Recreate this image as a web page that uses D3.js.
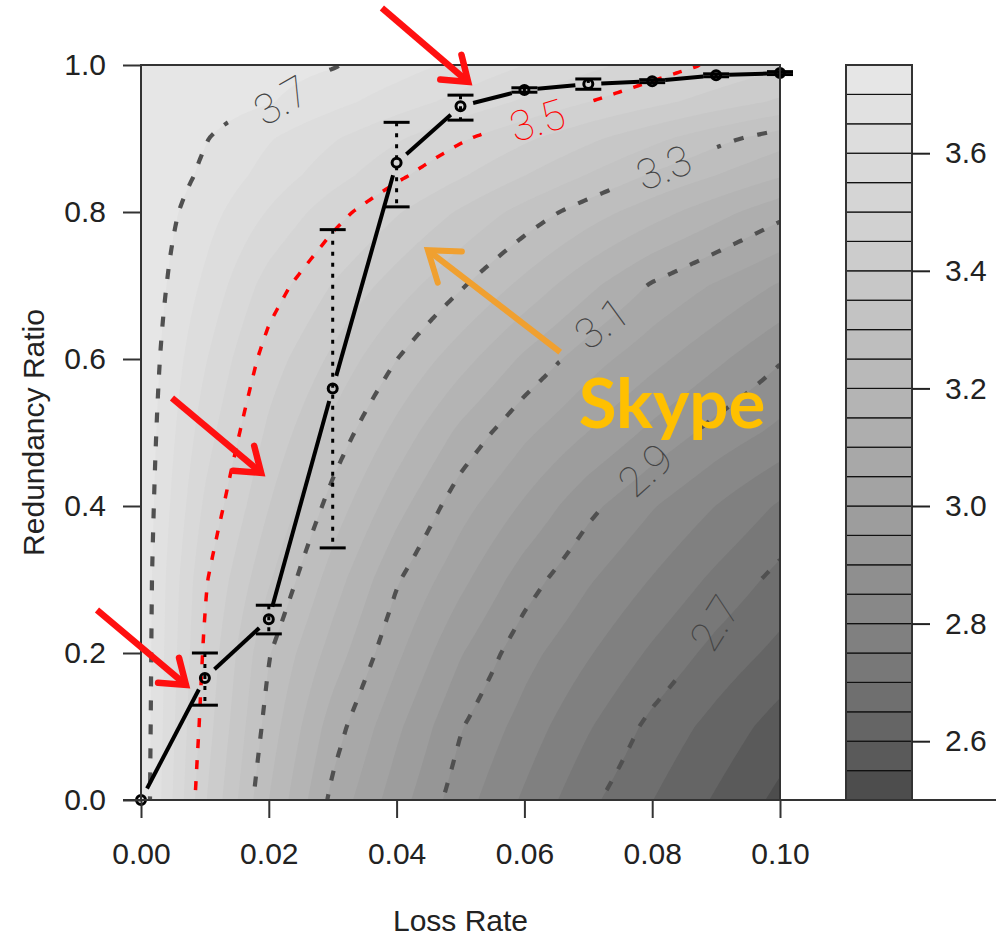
<!DOCTYPE html>
<html><head><meta charset="utf-8">
<script src="https://cdn.jsdelivr.net/npm/d3@7"></script>
<style>body{margin:0;background:#fff}svg{display:block}</style>
</head><body>
<svg id="chart" width="996" height="936"></svg>
<script>
// ---------------- DATA ----------------
// grid of the score surface
const lossGrid = [0, 0.01, 0.02, 0.03, 0.04, 0.05, 0.06, 0.07, 0.08, 0.09, 0.10];
const redundancyGrid = [0, 0.1, 0.2, 0.3, 0.4, 0.5, 0.6, 0.7, 0.8, 0.85, 0.9, 0.95, 1.0];
const scoreGrid = [
  [3.740, 3.456, 3.250, 3.086, 2.973, 2.872, 2.792, 2.712, 2.651, 2.594, 2.537],
  [3.740, 3.476, 3.278, 3.125, 3.011, 2.904, 2.829, 2.755, 2.686, 2.632, 2.578],
  [3.740, 3.491, 3.304, 3.178, 3.061, 2.954, 2.869, 2.805, 2.741, 2.683, 2.635],
  [3.740, 3.507, 3.356, 3.226, 3.106, 3.014, 2.924, 2.856, 2.797, 2.738, 2.684],
  [3.740, 3.541, 3.401, 3.280, 3.169, 3.070, 2.992, 2.914, 2.854, 2.799, 2.743],
  [3.740, 3.573, 3.439, 3.334, 3.234, 3.137, 3.061, 2.999, 2.937, 2.882, 2.837],
  [3.740, 3.605, 3.477, 3.389, 3.301, 3.220, 3.140, 3.072, 3.016, 2.961, 2.905],
  [3.740, 3.640, 3.527, 3.447, 3.376, 3.306, 3.235, 3.163, 3.094, 3.044, 2.994],
  [3.740, 3.672, 3.596, 3.520, 3.455, 3.393, 3.331, 3.274, 3.222, 3.169, 3.116],
  [3.745, 3.691, 3.631, 3.571, 3.511, 3.456, 3.401, 3.347, 3.294, 3.250, 3.205],
  [3.745, 3.703, 3.654, 3.605, 3.556, 3.507, 3.459, 3.411, 3.364, 3.316, 3.273],
  [3.750, 3.727, 3.704, 3.666, 3.625, 3.584, 3.542, 3.501, 3.465, 3.428, 3.392],
  [3.750, 3.735, 3.720, 3.704, 3.673, 3.637, 3.600, 3.564, 3.527, 3.492, 3.458]
];
const fillLevels = [2.5, 2.55, 2.6, 2.65, 2.7, 2.75, 2.8, 2.85, 2.9, 2.95, 3.0, 3.05, 3.1,
  3.15, 3.2, 3.25, 3.3, 3.35, 3.4, 3.45, 3.5, 3.55, 3.6, 3.65, 3.7, 3.75];
const lineLevels = [2.7, 2.9, 3.1, 3.3, 3.5, 3.7];
const highlightLevel = 3.5;
// contour label anchors (loss, redundancy, angle)
const labelLevels = ["3.7", "3.5", "3.3", "3.1", "2.9", "2.7"];
const labelLoss = [0.0219, 0.0620, 0.0818, 0.0721, 0.0789, 0.0898];
const labelRatio = [0.952, 0.925, 0.861, 0.649, 0.449, 0.241];
const labelAngle = [-30, -17, -21, -36, -42, -58];

// measured Skype points
const lossRate = [0, 0.01, 0.02, 0.03, 0.04, 0.05, 0.06, 0.07, 0.08, 0.09, 0.10];
const meanRatio = [0, 0.166, 0.246, 0.560, 0.867, 0.944, 0.966, 0.974, 0.978, 0.986, 0.989];
const lowRatio  = [0, 0.129, 0.226, 0.343, 0.807, 0.925, 0.963, 0.967, 0.976, 0.984, 0.987];
const highRatio = [0, 0.200, 0.265, 0.776, 0.922, 0.959, 0.969, 0.981, 0.980, 0.988, 0.991];

// axis ticks
const xTicks = [0, 0.02, 0.04, 0.06, 0.08, 0.10];
const yTicks = [0, 0.2, 0.4, 0.6, 0.8, 1.0];
const keyTicks = [2.6, 2.8, 3.0, 3.2, 3.4, 3.6];

// annotations (data coordinates)
const redArrowTail = [[0.0377, 1.0776], [0.00485, 0.547], [-0.00689, 0.2585]];
const redArrowTip  = [[0.0512, 0.9769], [0.0188, 0.445], [0.00704, 0.1565]];
const orangeArrowTail = [0.0656, 0.6095];
const orangeArrowTip  = [0.0449, 0.748];
const calloutText = "Skype";
const calloutAt = [0.0685, 0.506];

// ---------------- LAYOUT ----------------
const svg = d3.select("#chart");
const L = 141, R = 780, T = 65, B = 800;
const x = d3.scaleLinear().domain([0, 0.1]).range([L, R]);
const y = d3.scaleLinear().domain([0, 1]).range([B, T]);
const keyY = d3.scaleLinear().domain([2.5, 3.75]).range([B, T]);
const KL = 846, KR = 912;

function grayCol(k, n) {
  const s = Math.pow(0.3, 2.2), e = Math.pow(0.9, 2.2);
  const v = Math.pow(s + (e - s) * k / (n - 1), 1 / 2.2);
  const c = Math.round(v * 255);
  return d3.rgb(c, c, c).formatHex();
}
const nBands = fillLevels.length - 1;
const bandColor = d3.range(nBands).map(k => grayCol(k, nBands));

// ---------------- FIELD (bilinear resampling for rendering) ----------------
function fieldAt(xv, yv) {
  xv = Math.max(0, Math.min(0.1, xv));
  yv = Math.max(0, Math.min(1, yv));
  let i = Math.max(0, Math.min(lossGrid.length - 2, d3.bisectRight(lossGrid, xv) - 1));
  let j = Math.max(0, Math.min(redundancyGrid.length - 2, d3.bisectRight(redundancyGrid, yv) - 1));
  const tx = (xv - lossGrid[i]) / (lossGrid[i + 1] - lossGrid[i]);
  const ty = (yv - redundancyGrid[j]) / (redundancyGrid[j + 1] - redundancyGrid[j]);
  const z00 = scoreGrid[j][i], z10 = scoreGrid[j][i + 1];
  const z01 = scoreGrid[j + 1][i], z11 = scoreGrid[j + 1][i + 1];
  return (1 - tx) * (1 - ty) * z00 + tx * (1 - ty) * z10 + (1 - tx) * ty * z01 + tx * ty * z11;
}
const fx0 = -0.003, fdx = 0.0004, fnx = Math.round(0.106 / fdx) + 1;
const fy0 = -0.03, fdy = 0.004, fny = Math.round(1.06 / fdy) + 1;
const values = new Float64Array(fnx * fny);
for (let j = 0; j < fny; j++)
  for (let i = 0; i < fnx; i++)
    values[j * fnx + i] = fieldAt(fx0 + i * fdx, fy0 + j * fdy);

const proj = d3.geoTransform({
  point(cx, cy) { this.stream.point(x(fx0 + (cx - 0.5) * fdx), y(fy0 + (cy - 0.5) * fdy)); }
});
const path = d3.geoPath(proj);
const contours = d3.contours().size([fnx, fny]);

const defs = svg.append("defs");
defs.append("clipPath").attr("id", "plotClip")
  .append("rect").attr("x", L).attr("y", T).attr("width", R - L).attr("height", B - T);

// label gaps mask
const mask = defs.append("mask").attr("id", "labelGaps").attr("maskUnits", "userSpaceOnUse")
  .attr("x", 0).attr("y", 0).attr("width", 996).attr("height", 936);
mask.append("rect").attr("x", 0).attr("y", 0).attr("width", 996).attr("height", 936).attr("fill", "#fff");
labelLevels.forEach((lab, k) => {
  mask.append("rect").attr("x", -57).attr("y", -22).attr("width", 114).attr("height", 44)
    .attr("fill", "#000")
    .attr("transform", `translate(${x(labelLoss[k])},${y(labelRatio[k])}) rotate(${labelAngle[k]})`);
});

// ---------------- FILLED CONTOURS ----------------
const plotG = svg.append("g").attr("clip-path", "url(#plotClip)");
plotG.append("rect").attr("x", L).attr("y", T).attr("width", R - L).attr("height", B - T)
  .attr("fill", bandColor[0]);
fillLevels.slice(0, nBands).forEach((lv, k) => {
  const c = contours.contour(values, lv);
  plotG.append("path").attr("d", path(c)).attr("fill", bandColor[k]).attr("stroke", "none");
});

// contour lines
const lineG = plotG.append("g").attr("mask", "url(#labelGaps)");
lineLevels.forEach(lv => {
  const c = contours.contour(values, lv);
  const red = Math.abs(lv - highlightLevel) < 1e-9;
  lineG.append("path").attr("d", path(c)).attr("fill", "none")
    .attr("stroke", red ? "#ff0000" : "#505050")
    .attr("stroke-width", red ? 3.5 : 4.2)
    .attr("stroke-dasharray", red ? "9,12" : "10,14");
});

// contour labels
labelLevels.forEach((lab, k) => {
  const red = +lab === highlightLevel;
  plotG.append("text")
    .attr("transform", `translate(${x(labelLoss[k])},${y(labelRatio[k])}) rotate(${labelAngle[k]})`)
    .attr("text-anchor", "middle").attr("dy", "0.36em")
    .attr("font-family", "Roboto, 'Liberation Sans', sans-serif")
    .attr("font-weight", 100).attr("font-size", 42)
    .attr("fill", red ? "#ff0000" : "#444444")
    .text(lab);
});

// ---------------- MEASURED SERIES ----------------
const serG = svg.append("g");
const gap = 13;
for (let i = 0; i < lossRate.length - 1; i++) {
  const x1 = x(lossRate[i]), y1 = y(meanRatio[i]), x2 = x(lossRate[i + 1]), y2 = y(meanRatio[i + 1]);
  const d = Math.hypot(x2 - x1, y2 - y1);
  if (d <= 2 * gap) continue;
  const ux = (x2 - x1) / d, uy = (y2 - y1) / d;
  serG.append("line").attr("x1", x1 + ux * gap).attr("y1", y1 + uy * gap)
    .attr("x2", x2 - ux * gap).attr("y2", y2 - uy * gap)
    .attr("stroke", "#000").attr("stroke-width", 4);
}
lossRate.forEach((lr, i) => {
  if (highRatio[i] === lowRatio[i]) return;
  const cx = x(lr);
  serG.append("line").attr("x1", cx).attr("x2", cx).attr("y1", y(highRatio[i])).attr("y2", y(lowRatio[i]))
    .attr("stroke", "#000").attr("stroke-width", 3).attr("stroke-dasharray", "4,7");
  [highRatio[i], lowRatio[i]].forEach(v => {
    serG.append("line").attr("x1", cx - 13).attr("x2", cx + 13).attr("y1", y(v)).attr("y2", y(v))
      .attr("stroke", "#000").attr("stroke-width", 3);
  });
});
lossRate.forEach((lr, i) => {
  serG.append("circle").attr("cx", x(lr)).attr("cy", y(meanRatio[i])).attr("r", 4.5)
    .attr("fill", "none").attr("stroke", "#000").attr("stroke-width", 3);
});

// ---------------- FRAME & AXES ----------------
svg.append("rect").attr("x", L).attr("y", T).attr("width", R - L).attr("height", B - T)
  .attr("fill", "none").attr("stroke", "#333").attr("stroke-width", 2);
svg.append("line").attr("x1", 123).attr("x2", 996).attr("y1", B).attr("y2", B)
  .attr("stroke", "#333").attr("stroke-width", 2);

const axFont = "'Liberation Sans', Arial, sans-serif";
const xAx = svg.append("g").attr("transform", `translate(0,${B})`)
  .call(d3.axisBottom(x).tickValues(xTicks).tickSize(18).tickPadding(25).tickFormat(d3.format(".2f")));
const yAx = svg.append("g").attr("transform", `translate(${L},0)`)
  .call(d3.axisLeft(y).tickValues(yTicks).tickSize(18).tickPadding(17).tickFormat(d3.format(".1f")));
[xAx, yAx].forEach(g => {
  g.select(".domain").remove();
  g.selectAll("line").attr("stroke", "#333").attr("stroke-width", 2);
  g.selectAll("text").attr("font-family", axFont).attr("font-size", 30).attr("fill", "#222");
});

svg.append("text").attr("x", (L + R) / 2).attr("y", 931).attr("text-anchor", "middle")
  .attr("font-family", axFont).attr("font-size", 30).attr("fill", "#222").text("Loss Rate");
svg.append("text").attr("transform", `translate(44,${(T + B) / 2}) rotate(-90)`).attr("text-anchor", "middle")
  .attr("font-family", axFont).attr("font-size", 30).attr("fill", "#222").text("Redundancy Ratio");

// ---------------- COLOUR KEY ----------------
const keyG = svg.append("g");
d3.range(nBands).forEach(k => {
  keyG.append("rect").attr("x", KL).attr("width", KR - KL)
    .attr("y", keyY(fillLevels[k + 1])).attr("height", keyY(fillLevels[k]) - keyY(fillLevels[k + 1]))
    .attr("fill", bandColor[k]).attr("stroke", "#111").attr("stroke-width", 1.2);
});
keyG.append("rect").attr("x", KL).attr("y", T).attr("width", KR - KL).attr("height", B - T)
  .attr("fill", "none").attr("stroke", "#333").attr("stroke-width", 2);
const kAx = svg.append("g").attr("transform", `translate(${KR},0)`)
  .call(d3.axisRight(keyY).tickValues(keyTicks).tickSize(18).tickPadding(15).tickFormat(d3.format(".1f")));
kAx.select(".domain").remove();
kAx.selectAll("line").attr("stroke", "#222").attr("stroke-width", 2);
kAx.selectAll("text").attr("font-family", axFont).attr("font-size", 30).attr("fill", "#222");

// ---------------- ANNOTATIONS ----------------
function arrow(tail, tip, color, w, head) {
  const x1 = x(tail[0]), y1 = y(tail[1]), x2 = x(tip[0]), y2 = y(tip[1]);
  const a = Math.atan2(y2 - y1, x2 - x1);
  svg.append("line").attr("x1", x1).attr("y1", y1).attr("x2", x2 - Math.cos(a) * 3).attr("y2", y2 - Math.sin(a) * 3)
    .attr("stroke", color).attr("stroke-width", w);
  const s = 0.62;
  const p1 = [x2 - head * Math.cos(a - s), y2 - head * Math.sin(a - s)];
  const p2 = [x2 - head * Math.cos(a + s), y2 - head * Math.sin(a + s)];
  svg.append("path").attr("d", `M${p1[0]},${p1[1]}L${x2},${y2}L${p2[0]},${p2[1]}`)
    .attr("fill", "none").attr("stroke", color).attr("stroke-width", w)
    .attr("stroke-linejoin", "miter").attr("stroke-linecap", "round");
}
redArrowTail.forEach((t, i) => arrow(t, redArrowTip[i], "#ff1010", 6.5, 28));
arrow(orangeArrowTail, orangeArrowTip, "#f0a030", 6, 34);
svg.append("text").attr("x", x(calloutAt[0])).attr("y", y(calloutAt[1]))
  .attr("font-family", "Lato, 'Open Sans', sans-serif").attr("font-weight", 700)
  .attr("font-size", 69).attr("fill", "#ffc000").text(calloutText);
</script>
</body></html>
